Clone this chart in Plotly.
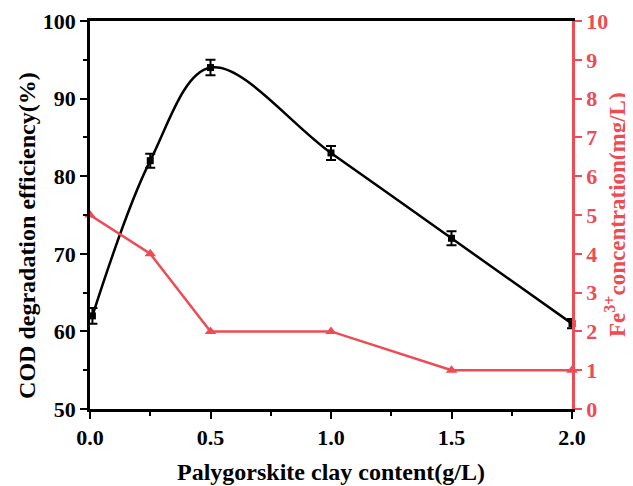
import plotly.graph_objects as go

clay_cod = [0.01, 0.25, 0.5, 1.0, 1.5, 2.0]
cod_eff = [62, 82, 94, 83, 72, 61]
cod_err = [1.0, 0.9, 1.0, 0.9, 0.9, 0.6]

clay_fe = [0.0, 0.25, 0.5, 1.0, 1.5, 2.0]
fe_conc = [5, 4, 2, 2, 1, 1]

x_ticks = [0.0, 0.5, 1.0, 1.5, 2.0]
x_tick_labels = ["0.0", "0.5", "1.0", "1.5", "2.0"]

x_title = "Palygorskite clay content(g/L)"
y_title = "COD degradation efficiency(%)"
y2_title = "Fe<sup>3+</sup>concentration(mg/L)"

RED = "#ee4b55"
FONT = "Liberation Serif"
TICK = 22
TITLE = 24

fig = go.Figure()
fig.add_trace(go.Scatter(
    x=clay_fe, y=fe_conc, yaxis="y2", mode="lines+markers",
    line=dict(color=RED, width=2.5),
    marker=dict(symbol="triangle-up", size=10, color=RED),
    cliponaxis=False, showlegend=False))
fig.add_trace(go.Scatter(
    x=clay_cod, y=cod_eff, mode="lines+markers",
    line=dict(color="black", width=2.5, shape="spline", smoothing=1.0),
    marker=dict(symbol="square", size=7, color="black"),
    error_y=dict(type="data", array=cod_err, color="black", thickness=2, width=5),
    cliponaxis=False, showlegend=False))

# page body has an 8px margin, so the figure is sized/offset to compensate
fig.update_layout(
    width=625, height=478,
    margin=dict(l=82, r=61, t=13, b=77, autoexpand=False),
    plot_bgcolor="white", paper_bgcolor="white",
    font=dict(family=FONT, size=19, color="black"),
    xaxis=dict(
        range=[0, 2], tickvals=x_ticks, ticktext=x_tick_labels, automargin=False,
        showgrid=False, zeroline=False,
        showline=True, linecolor="black", linewidth=2.5, mirror=True,
        ticks="outside", ticklen=7, tickwidth=2, tickcolor="black",
        minor=dict(tickvals=[0.25, 0.75, 1.25, 1.75], ticks="outside", ticklen=4, tickwidth=2, tickcolor="black"),
        tickfont=dict(family=FONT, size=TICK, weight="bold"),
    ),
    yaxis=dict(
        range=[50, 100], tickvals=[50, 60, 70, 80, 90, 100], automargin=False,
        showgrid=False, zeroline=False,
        showline=True, linecolor="black", linewidth=2.5,
        ticks="outside", ticklen=7, tickwidth=2, tickcolor="black",
        minor=dict(tickvals=[55, 65, 75, 85, 95], ticks="outside", ticklen=4, tickwidth=2, tickcolor="black"),
        tickfont=dict(family=FONT, size=TICK, weight="bold"),
    ),
    yaxis2=dict(
        range=[0, 10], tickvals=list(range(0, 11)), overlaying="y", side="right", automargin=False,
        showgrid=False, zeroline=False,
        showline=True, linecolor=RED, linewidth=2.5,
        ticks="outside", ticklen=7, tickwidth=2, tickcolor=RED,
        tickfont=dict(family=FONT, size=TICK, weight="bold", color=RED),
    ),
    annotations=[
        dict(text=x_title, xref="paper", yref="paper", x=0.5, y=0, yshift=-63,
             xanchor="center", yanchor="middle", showarrow=False,
             font=dict(family=FONT, size=TITLE, weight="bold", color="black")),
        dict(text=y_title, xref="paper", yref="paper", x=0, y=0.446, xshift=-63,
             textangle=-90, xanchor="center", yanchor="middle", showarrow=False,
             font=dict(family=FONT, size=TITLE, weight="bold", color="black")),
        dict(text=y2_title, xref="paper", yref="paper", x=1, y=0.5, xshift=43,
             textangle=-90, xanchor="center", yanchor="middle", showarrow=False,
             font=dict(family=FONT, size=23, weight="bold", color=RED)),
    ],
)

fig.write_html("out.html")
